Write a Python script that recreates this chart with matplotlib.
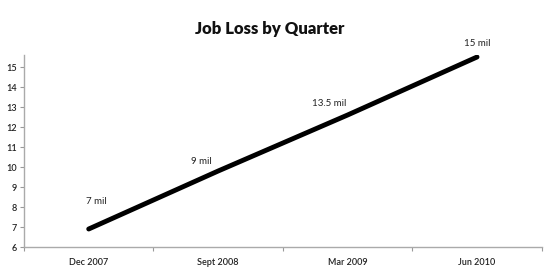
import matplotlib.pyplot as plt

quarters = ['Dec 2007', 'Sept 2008', 'Mar 2009', 'Jun 2010']
job_loss = [6.9, 9.8, 12.6, 15.5]
labels = ['7 mil', '9 mil', '13.5 mil', '15 mil']
label_offsets = [(8, 28), (-17, 10), (-18, 12), (0, 14)]

plt.rcParams['font.family'] = ['Lato', 'DejaVu Sans']

fig = plt.figure(figsize=(5.5, 2.73), dpi=100)
ax = fig.add_axes([0.0436, 0.0952, 0.9414, 0.7033])

x = list(range(len(quarters)))
ax.plot(x, job_loss, color='black', linewidth=3.5, solid_capstyle='round')

for xi, yi, lab, off in zip(x, job_loss, labels, label_offsets):
    ax.annotate(lab, (xi, yi), xytext=off, textcoords='offset pixels',
                ha='center', va='center', fontsize=7, color='#222222')

ax.set_xlim(-0.5, 3.5)
ax.set_ylim(6, 15.6)
ax.set_yticks(range(6, 16))

# category labels centred, tick marks between categories
ax.set_xticks([-0.5, 0.5, 1.5, 2.5, 3.5])
ax.set_xticklabels([])
ax.set_xticks(x, minor=True)
ax.set_xticklabels(quarters, minor=True)
ax.tick_params(axis='x', which='minor', length=0, pad=8, labelsize=6.5, labelcolor='#222222')
ax.tick_params(axis='x', which='major', length=3, color='#999999', direction='out')
ax.tick_params(axis='y', length=3, color='#999999', labelsize=6.5, labelcolor='#222222', pad=2)
for t in ax.get_yticklabels() + ax.get_xticklabels(minor=True):
    t.set_fontweight('semibold')

for side in ['top', 'right']:
    ax.spines[side].set_visible(False)
for side in ['left', 'bottom']:
    ax.spines[side].set_color('#aaaaaa')
    ax.spines[side].set_linewidth(1)

fig.text(0.49, 0.895, 'Job Loss by Quarter', ha='center', va='center',
         fontsize=12, fontweight='heavy', color='#111111')

fig.savefig('out.png', dpi=100)
